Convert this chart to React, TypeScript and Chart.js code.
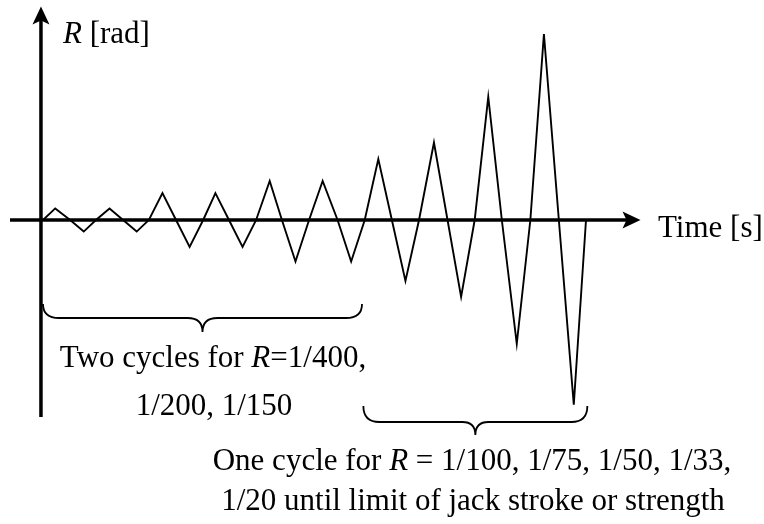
import React, { useEffect, useRef } from "react";
import { Chart, registerables } from "chart.js";

Chart.register(...registerables);

// ---- data ----
const timeS = [
  0, 0.9, 2.0, 3.0, 3.9, 4.9, 5.9, 6.9, 7.8, 8.8, 9.8, 10.8, 11.8, 12.7, 13.7,
  14.7, 15.7, 16.7, 17.6, 18.6, 19.6, 20.6, 21.7, 22.7, 23.7, 24.7, 25.7, 26.7,
  27.7, 28.8, 29.8, 30.8, 31.8, 32.8, 33.8, 34.9, 35.9, 36.9, 38.0, 39.1, 40.0,
];
const rotationRad = [
  0, 0.0019, 0, -0.0019, 0, 0.0019, 0, -0.0019, 0, 0.0044, 0, -0.0044, 0, 0.0044,
  0, -0.0044, 0, 0.0064, 0, -0.0068, 0, 0.0064, 0, -0.0068, 0, 0.01, 0, -0.01, 0,
  0.0127, 0, -0.0126, 0, 0.0202, 0, -0.0203, 0, 0.0305, 0, -0.0303, 0,
];
// time spans covered by the two braces
const braceTwoCycles = [0, 23.5];
const braceOneCycle = [23.6, 40.1];

type Run = { t: string; i?: boolean };
const yAxisTitle: Run[] = [{ t: "R", i: true }, { t: " [rad]" }];
const xAxisTitle: Run[] = [{ t: "Time [s]" }];
const noteTwoCycles: Run[][] = [
  [{ t: "Two cycles for " }, { t: "R", i: true }, { t: "=1/400," }],
  [{ t: "1/200, 1/150" }],
];
const noteOneCycle: Run[][] = [
  [{ t: "One cycle for " }, { t: "R", i: true }, { t: " = 1/100, 1/75, 1/50, 1/33," }],
  [{ t: "1/20 until limit of jack stroke or strength" }],
];

const FONT_FAMILY = '"Liberation Serif", "Times New Roman", serif';
const FONT_SIZE = 31;

function runFont(r: Run) {
  return `${r.i ? "italic " : ""}${FONT_SIZE}px ${FONT_FAMILY}`;
}

function drawRuns(ctx: CanvasRenderingContext2D, runs: Run[], x: number, y: number, align: "left" | "center") {
  let total = 0;
  const widths = runs.map((r) => {
    ctx.font = runFont(r);
    const w = ctx.measureText(r.t).width;
    total += w;
    return w;
  });
  let cx = align === "center" ? x - total / 2 : x;
  runs.forEach((r, k) => {
    ctx.font = runFont(r);
    ctx.fillText(r.t, cx, y);
    cx += widths[k];
  });
}

function drawBrace(
  ctx: CanvasRenderingContext2D,
  x1: number,
  x2: number,
  yTop: number,
  yLine: number,
  yTip: number,
  r: number,
  rc: number
) {
  const xm = (x1 + x2) / 2;
  ctx.beginPath();
  ctx.moveTo(x1, yTop);
  ctx.quadraticCurveTo(x1, yLine, x1 + r, yLine);
  ctx.lineTo(xm - rc, yLine);
  ctx.quadraticCurveTo(xm, yLine, xm, yTip);
  ctx.quadraticCurveTo(xm, yLine, xm + rc, yLine);
  ctx.lineTo(x2 - r, yLine);
  ctx.quadraticCurveTo(x2, yLine, x2, yTop);
  ctx.stroke();
}

const decorPlugin = {
  id: "decor",
  beforeDatasetsDraw(chart: any) {
    const ctx: CanvasRenderingContext2D = chart.ctx;
    const xs = chart.scales.x;
    const ys = chart.scales.y;
    const x0 = xs.getPixelForValue(-0.15);
    const y0 = ys.getPixelForValue(0);
    ctx.save();
    ctx.strokeStyle = "#000";
    ctx.fillStyle = "#000";
    ctx.lineWidth = 3.5;
    // vertical axis
    ctx.beginPath();
    ctx.moveTo(x0, 417);
    ctx.lineTo(x0, 20);
    ctx.stroke();
    // horizontal axis
    ctx.beginPath();
    ctx.moveTo(10, y0);
    ctx.lineTo(628, y0);
    ctx.stroke();
    // arrow heads
    const tipY = 6.5;
    ctx.beginPath();
    ctx.moveTo(x0, tipY);
    ctx.lineTo(x0 + 8.5, tipY + 18);
    ctx.lineTo(x0, tipY + 14);
    ctx.lineTo(x0 - 8.5, tipY + 18);
    ctx.closePath();
    ctx.fill();
    const tipX = 640.5;
    ctx.beginPath();
    ctx.moveTo(tipX, y0);
    ctx.lineTo(tipX - 18, y0 - 8.5);
    ctx.lineTo(tipX - 14, y0);
    ctx.lineTo(tipX - 18, y0 + 8.5);
    ctx.closePath();
    ctx.fill();
    ctx.restore();
  },
  afterDraw(chart: any) {
    const ctx: CanvasRenderingContext2D = chart.ctx;
    const xs = chart.scales.x;
    ctx.save();
    ctx.strokeStyle = "#000";
    ctx.fillStyle = "#000";
    ctx.lineWidth = 1.8;
    drawBrace(
      ctx,
      xs.getPixelForValue(braceTwoCycles[0]),
      xs.getPixelForValue(braceTwoCycles[1]),
      304,
      318,
      332,
      16,
      15
    );
    drawBrace(
      ctx,
      xs.getPixelForValue(braceOneCycle[0]),
      xs.getPixelForValue(braceOneCycle[1]),
      406,
      422,
      435,
      16,
      13
    );
    ctx.textBaseline = "alphabetic";
    drawRuns(ctx, yAxisTitle, 63, 43, "left");
    drawRuns(ctx, xAxisTitle, 658, 237, "left");
    drawRuns(ctx, noteTwoCycles[0], 213, 367, "center");
    drawRuns(ctx, noteTwoCycles[1], 214, 415, "center");
    drawRuns(ctx, noteOneCycle[0], 472, 470, "center");
    drawRuns(ctx, noteOneCycle[1], 473, 510, "center");
    ctx.restore();
  },
};

export default function App() {
  const canvasRef = useRef<HTMLCanvasElement | null>(null);

  useEffect(() => {
    const canvas = canvasRef.current;
    if (!canvas) return;
    const chart = new Chart(canvas, {
      type: "line",
      data: {
        datasets: [
          {
            data: timeS.map((t, k) => ({ x: t, y: rotationRad[k] })),
            borderColor: "#000",
            borderWidth: 1.9,
            pointRadius: 0,
            tension: 0,
            fill: false,
            clip: false as any,
          },
        ],
      },
      options: {
        responsive: false,
        animation: false,
        devicePixelRatio: 1,
        layout: { padding: { left: 43, right: 178, top: 31, bottom: 115 } },
        plugins: {
          legend: { display: false },
          tooltip: { enabled: false },
          title: { display: false },
        },
        events: [],
        scales: {
          x: { type: "linear", min: 0, max: 40, display: false },
          y: { type: "linear", min: -0.031, max: 0.031, display: false },
        },
      },
      plugins: [decorPlugin],
    });
    return () => chart.destroy();
  }, []);

  return (
    <div style={{ position: "absolute", left: 0, top: 0, width: 764, height: 524, background: "#fff" }}>
      <canvas ref={canvasRef} width={764} height={524} style={{ display: "block" }} />
    </div>
  );
}
